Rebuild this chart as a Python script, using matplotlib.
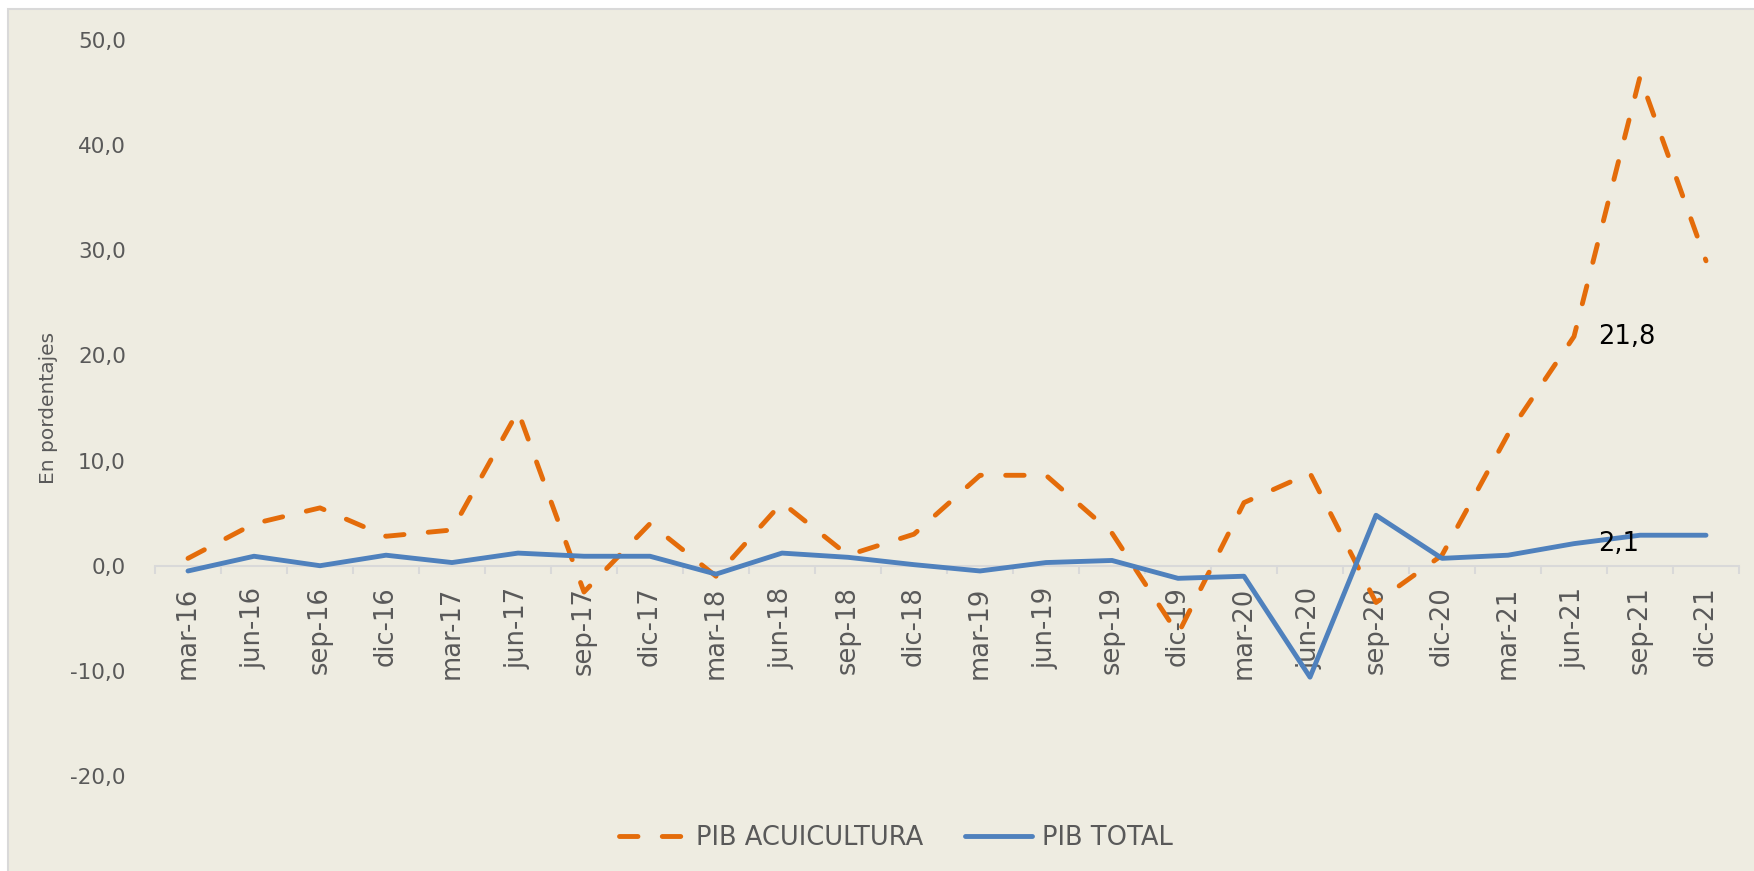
import matplotlib
matplotlib.use("Agg")
from matplotlib import pyplot as plt
from matplotlib.patches import Rectangle
from matplotlib.ticker import FuncFormatter
import numpy as np

# quarters, mar-16 .. dic-21
quarters = ["mar-16", "jun-16", "sep-16", "dic-16",
            "mar-17", "jun-17", "sep-17", "dic-17",
            "mar-18", "jun-18", "sep-18", "dic-18",
            "mar-19", "jun-19", "sep-19", "dic-19",
            "mar-20", "jun-20", "sep-20", "dic-20",
            "mar-21", "jun-21", "sep-21", "dic-21"]

pib_acuicultura = [0.7, 4.0, 5.5, 2.8, 3.4, 14.7, -2.5, 4.0,
                   -1.0, 6.0, 1.0, 3.0, 8.6, 8.6, 3.1, -6.5,
                   6.0, 8.8, -3.5, 1.0, 12.5, 21.8, 46.5, 29.0]

pib_total = [-0.5, 0.9, 0.0, 1.0, 0.3, 1.2, 0.9, 0.9,
             -0.8, 1.2, 0.8, 0.1, -0.5, 0.3, 0.5, -1.2,
             -1.0, -10.6, 4.8, 0.7, 1.0, 2.1, 2.9, 2.9]

y_ticks = [-20, -10, 0, 10, 20, 30, 40, 50]

ORANGE = "#E46C0A"
BLUE = "#4F81BD"
GREY_TXT = "#595959"
GREY_LINE = "#D9D9D9"
BG = "#EEECE1"

W, H = 1754, 871
fig = plt.figure(figsize=(W / 100, H / 100), dpi=100, facecolor="white")

# chart area with thin border
fig.patches.append(Rectangle((8 / W, -0.05), 1.1, 1.05 - 9 / H,
                             transform=fig.transFigure, facecolor=BG,
                             edgecolor=GREY_LINE, linewidth=1.5, zorder=-10))

ax = fig.add_axes([155 / W, 1 - 776 / H, (1739 - 155) / W, (776 - 40) / H])
ax.set_facecolor("none")

x = np.arange(len(quarters))
ax.plot(x, pib_acuicultura, color=ORANGE, linewidth=3.5, dashes=(3.8, 5.0),
        dash_capstyle="round", solid_capstyle="round", label="PIB ACUICULTURA")
ax.plot(x, pib_total, color=BLUE, linewidth=3.5, solid_capstyle="round",
        label="PIB TOTAL")

ax.set_xlim(-0.5, len(quarters) - 0.5)
ax.set_ylim(-20, 50)

# category axis crossing at zero
for s in ["top", "right", "left"]:
    ax.spines[s].set_visible(False)
ax.spines["bottom"].set_position(("data", 0))
ax.spines["bottom"].set_color(GREY_LINE)
ax.spines["bottom"].set_linewidth(1.5)
ax.spines["bottom"].set_zorder(1)

ax.set_xticks(x)
ax.set_xticklabels(quarters, rotation=90, fontsize=18.5, color=GREY_TXT)
ax.tick_params(axis="x", which="major", length=0, pad=15)
ax.set_xticks(np.arange(len(quarters) + 1) - 0.5, minor=True)
ax.tick_params(axis="x", which="minor", length=6, width=1.5, color=GREY_LINE)

ax.set_yticks(y_ticks)
ax.yaxis.set_major_formatter(FuncFormatter(lambda v, p: f"{v:.1f}".replace(".", ",")))
ax.tick_params(axis="y", length=0, pad=21, labelsize=15.5, labelcolor=GREY_TXT)

ax.set_ylabel("En pordentajes", fontsize=14.5, color=GREY_TXT, labelpad=0)
ax.yaxis.set_label_coords(-(155 - 58) / (1739 - 155), 0.5)

# data labels for jun-21
i = quarters.index("jun-21")
ax.annotate(f"{pib_acuicultura[i]:.1f}".replace(".", ","), (x[i], pib_acuicultura[i]),
            xytext=(24, 0), textcoords="offset pixels", ha="left", va="center",
            fontsize=18.5, color="black")
ax.annotate(f"{pib_total[i]:.1f}".replace(".", ","), (x[i], pib_total[i]),
            xytext=(24, 0), textcoords="offset pixels", ha="left", va="center",
            fontsize=18.5, color="black")

fig.legend(loc="center", bbox_to_anchor=(896 / W, 1 - 838 / H), ncol=2,
           frameon=False, fontsize=18.5, labelcolor=GREY_TXT,
           handlelength=2.6, handletextpad=0.4, columnspacing=1.6)

fig.savefig("out.png", dpi=100, facecolor="white")
